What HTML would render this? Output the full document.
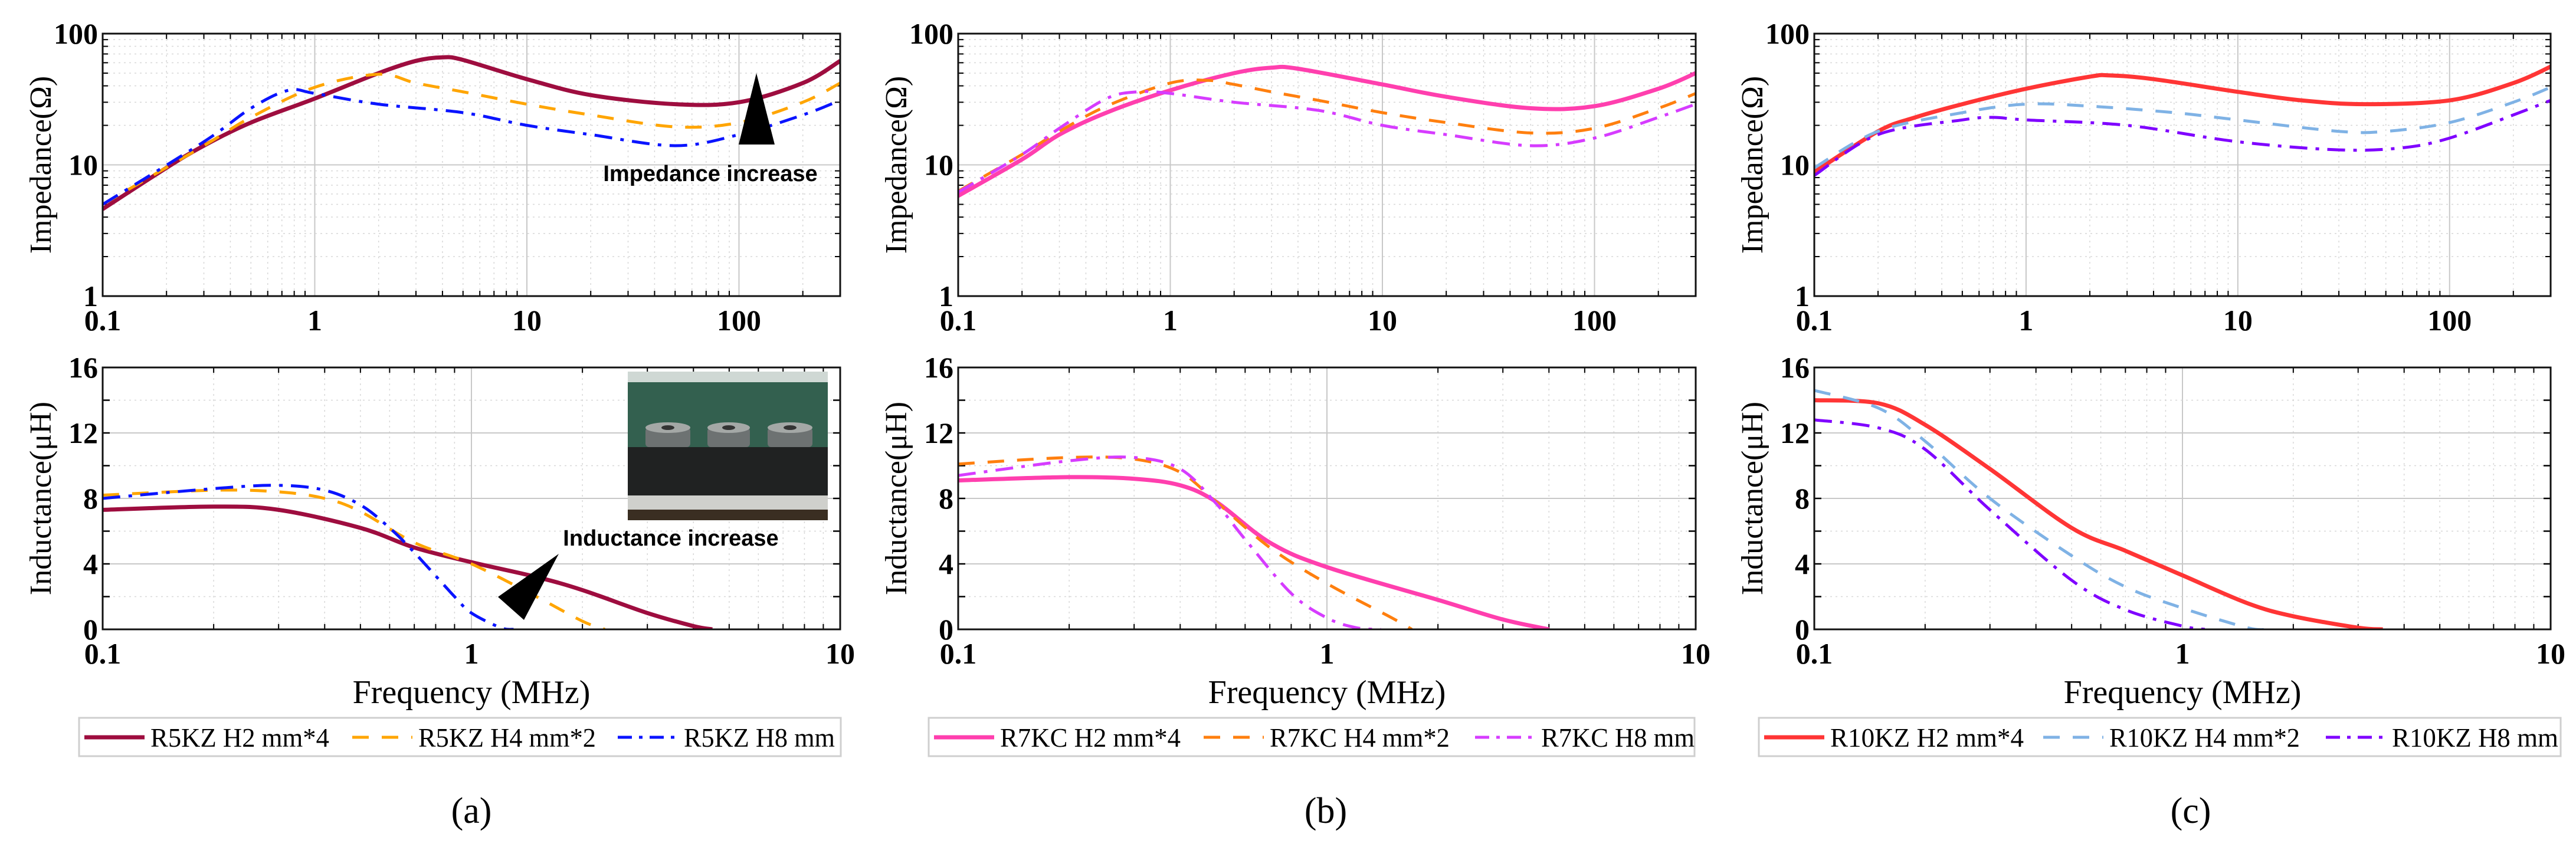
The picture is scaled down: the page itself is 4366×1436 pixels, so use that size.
<!DOCTYPE html>
<html><head><meta charset="utf-8">
<style>
html,body{margin:0;padding:0;background:#fff;}
svg{display:block;}
text{font-family:"Liberation Serif",serif;}
</style></head>
<body>
<svg id="fig" width="4366" height="1436" viewBox="0 0 4366 1436" xmlns="http://www.w3.org/2000/svg"></svg>
<script>
// ---------- data ----------
const aZf1 = [0.1,0.2,0.3,0.5,1,2,3,4,5,10,20,50,100,200,300];
const aZv1 = [4.6,9.5,14,21,32,50,62,66,63,45,34,29,30,42,62];
const aZf2 = [0.1,0.3,0.5,1,2,3,5,10,20,50,100,200,300];
const aZv2 = [5,14,23,39,49,42,36,29,24,19.5,21,30,42];
const aZf3 = [0.1,0.3,0.5,0.75,1,2,5,10,20,50,100,200,300];
const aZv3 = [5,15,27,37,35,29,25,20,17,14,17,24,31];
const aLf1 = [0.1,0.2,0.3,0.5,0.7,1,1.5,2,3,4,4.5];
const aLv1 = [7.3,7.5,7.3,6.2,5.0,4.1,3.2,2.4,1.0,0.2,0];
const aLf2 = [0.1,0.2,0.3,0.4,0.5,0.7,1,1.5,2,2.3];
const aLv2 = [8.2,8.5,8.4,8.0,7.2,5.3,4.0,2.0,0.5,0];
const aLf3 = [0.1,0.2,0.3,0.4,0.5,0.6,0.7,0.9,1,1.2,1.3];
const aLv3 = [8.0,8.6,8.8,8.5,7.6,6.2,4.7,2.0,1.0,0.1,0];
const bZf1 = [0.1,0.2,0.3,0.5,1,2,3,4,10,20,50,100,200,300];
const bZv1 = [5.8,11,17,25,37,50,55,54,41,33,27,28,38,50];
const bZf2 = [0.1,0.2,0.3,0.5,1,1.5,2,3,5,10,20,50,100,200,300];
const bZv2 = [6.3,12,18,28,42,44,41,36,31,25,21,17.5,19,27,35];
const bZf3 = [0.1,0.2,0.3,0.5,0.7,1,2,5,10,20,50,100,200,300];
const bZv3 = [6.2,12,19,32,36,35,30,26,20,17,14,16,23,29];
const bLf1 = [0.1,0.2,0.3,0.4,0.5,0.7,1,2,3,4];
const bLv1 = [9.1,9.3,9.2,8.8,7.8,5.3,3.8,1.8,0.6,0];
const bLf2 = [0.1,0.2,0.3,0.4,0.5,0.7,1,1.5,1.7];
const bLv2 = [10.1,10.5,10.4,9.6,7.8,5.0,2.8,0.7,0];
const bLf3 = [0.1,0.2,0.3,0.4,0.5,0.6,0.8,1,1.2,1.4];
const bLv3 = [9.4,10.3,10.5,9.8,7.7,5.5,2.2,0.7,0.1,0];
const cZf1 = [0.1,0.2,0.3,0.5,1,2,2.5,4,10,20,40,100,200,300];
const cZv1 = [8.8,18,23,29,38,47,48,45,36,31,29,31,42,56];
const cZf2 = [0.1,0.2,0.5,1,2,5,10,30,50,100,200,300];
const cZv2 = [9.5,18,25,29,28,25,22,18,18,21,30,39];
const cZf3 = [0.1,0.2,0.5,0.7,1,3,10,30,60,100,200,300];
const cZv3 = [8.3,17,22,23,22,20,15,13,13.5,16,24,31];
const cLf1 = [0.1,0.15,0.2,0.3,0.5,0.7,1,1.5,2,3,3.5];
const cLv1 = [14.0,13.8,12.5,9.8,6.2,4.8,3.3,1.6,0.8,0.1,0];
const cLf2 = [0.1,0.15,0.2,0.3,0.5,0.7,1,1.5,1.7];
const cLv2 = [14.6,13.5,11.5,8.0,4.5,2.6,1.3,0.1,0];
const cLf3 = [0.1,0.15,0.2,0.3,0.5,0.7,1,1.15];
const cLv3 = [12.8,12.3,11.0,7.3,3.0,1.2,0.2,0];

const zTicks = ["1","10","100"];
const zTickVals = [1,10,100];
const zxTicks = ["0.1","1","10","100"];
const zxTickVals = [0.1,1,10,100];
const lTicks = ["0","4","8","12","16"];
const lTickVals = [0,4,8,12,16];
const lxTicks = ["0.1","1","10"];
const lxTickVals = [0.1,1,10];
const legendA = ["R5KZ H2 mm*4","R5KZ H4 mm*2","R5KZ H8 mm"];
const legendB = ["R7KC H2 mm*4","R7KC H4 mm*2","R7KC H8 mm"];
const legendC = ["R10KZ H2 mm*4","R10KZ H4 mm*2","R10KZ H8 mm"];

// ---------- drawing ----------
const NS="http://www.w3.org/2000/svg";
const svg=document.getElementById('fig');
function mk(tag,attrs,parent){const e=document.createElementNS(NS,tag);for(const k in attrs)e.setAttribute(k,attrs[k]);(parent||svg).appendChild(e);return e;}
function txt(s,attrs,parent){const e=mk('text',attrs,parent);e.textContent=s;return e;}

const styles=[
 {w:7,dash:null},
 {w:5,dash:"28,22"},
 {w:5,dash:"30,14,6,14"}
];

function smoothPath(pts){
  let d="M"+pts[0][0].toFixed(1)+","+pts[0][1].toFixed(1);
  for(let i=0;i<pts.length-1;i++){
    const p0=pts[i-1]||pts[i],p1=pts[i],p2=pts[i+1],p3=pts[i+2]||p2;
    const c1=[p1[0]+(p2[0]-p0[0])/6,p1[1]+(p2[1]-p0[1])/6];
    const c2=[p2[0]-(p3[0]-p1[0])/6,p2[1]-(p3[1]-p1[1])/6];
    d+=" C"+c1.map(v=>v.toFixed(1)).join(",")+" "+c2.map(v=>v.toFixed(1)).join(",")+" "+p2[0].toFixed(1)+","+p2[1].toFixed(1);
  }
  return d;
}

function axes(o){
  const lx0=Math.log10(o.xmin),lx1=Math.log10(o.xmax);
  const X=f=>o.x0+(Math.log10(f)-lx0)/(lx1-lx0)*(o.x1-o.x0);
  let Y;
  if(o.logY){const a=Math.log10(o.ymin),b=Math.log10(o.ymax);Y=v=>o.y1-(Math.log10(v)-a)/(b-a)*(o.y1-o.y0);}
  else Y=v=>o.y1-(v-o.ymin)/(o.ymax-o.ymin)*(o.y1-o.y0);
  return {X,Y};
}

function plot(o){
  const g=mk('g',{});
  
  
  const {X,Y}=axes(o);
  const grid=mk('g',{},g);
  
  
  for(let d=Math.floor(Math.log10(o.xmin));d<Math.log10(o.xmax);d++){
    for(let m=1;m<10;m++){
      const f=m*Math.pow(10,d); if(f<o.xmin||f>o.xmax)continue;
      const x=X(f);
      if(m===1){mk('line',{x1:x,y1:o.y0,x2:x,y2:o.y1,stroke:"#c8c8c8","stroke-width":2},grid);}
      else{
        mk('line',{x1:x,y1:o.y0,x2:x,y2:o.y1,stroke:"#d8d8d8","stroke-width":1.5,"stroke-dasharray":"3,6"},grid);
        mk('line',{x1:x,y1:o.y1,x2:x,y2:o.y1-9,stroke:"#000","stroke-width":2},grid);
        mk('line',{x1:x,y1:o.y0,x2:x,y2:o.y0+9,stroke:"#000","stroke-width":2},grid);
      }
    }
  }
  if(o.logY){
    for(let d=0;d<2;d++)for(let m=1;m<10;m++){
      const v=m*Math.pow(10,d),y=Y(v);
      if(m===1){mk('line',{x1:o.x0,y1:y,x2:o.x1,y2:y,stroke:"#c8c8c8","stroke-width":2},grid);}
      else{
        mk('line',{x1:o.x0,y1:y,x2:o.x1,y2:y,stroke:"#d8d8d8","stroke-width":1.5,"stroke-dasharray":"3,6"},grid);
        mk('line',{x1:o.x0,y1:y,x2:o.x0+9,y2:y,stroke:"#000","stroke-width":2},grid);
        mk('line',{x1:o.x1,y1:y,x2:o.x1-9,y2:y,stroke:"#000","stroke-width":2},grid);
      }
    }
  } else {
    for(let v=0;v<=16;v+=2){
      const y=Y(v);
      if(v%4===0){mk('line',{x1:o.x0,y1:y,x2:o.x1,y2:y,stroke:"#c8c8c8","stroke-width":2},grid);}
      else{mk('line',{x1:o.x0,y1:y,x2:o.x1,y2:y,stroke:"#d8d8d8","stroke-width":1.5,"stroke-dasharray":"3,6"},grid);}
      mk('line',{x1:o.x0,y1:y,x2:o.x0+12,y2:y,stroke:"#000","stroke-width":2.5},grid);
      mk('line',{x1:o.x1,y1:y,x2:o.x1-12,y2:y,stroke:"#000","stroke-width":2.5},grid);
    }
  }
  if(o.inset) o.inset(g);
  const cp=mk('clipPath',{id:o.name+'-clip'},g);
  mk('rect',{x:o.x0,y:o.y0-4,width:o.x1-o.x0,height:o.y1-o.y0+4},cp);
  o.series.forEach((s,i)=>{
    const pts=s.f.map((f,k)=>[X(f),Y(s.v[k])]);
    const p=mk('path',{d:smoothPath(pts),fill:"none",stroke:s.color,"stroke-width":styles[i].w,"clip-path":"url(#"+o.name+"-clip)"},g);
    if(styles[i].dash)p.setAttribute('stroke-dasharray',styles[i].dash);
    
    
  });
  const fr=mk('rect',{x:o.x0,y:o.y0,width:o.x1-o.x0,height:o.y1-o.y0,fill:"none",stroke:"#111","stroke-width":3},g);
  
  
  o.yTickVals.forEach((v,i)=>{
    const t=txt(o.yTicks[i],{x:o.x0-8,y:Y(v)+17,"text-anchor":"end","font-size":50,"font-weight":"bold"},g);
    
    
  });
  o.xTickVals.forEach((v,i)=>{
    const t=txt(o.xTicks[i],{x:X(v),y:o.y1+58,"text-anchor":"middle","font-size":50,"font-weight":"bold"},g);
    
    
  });
  const yt=txt(o.ytitle,{x:0,y:0,"text-anchor":"middle","font-size":52,transform:"translate("+(o.x0-88)+","+((o.y0+o.y1)/2)+") rotate(-90)"},g);
  
  
  if(o.xtitle){
    const xt=txt(o.xtitle,{x:(o.x0+o.x1)/2,y:o.y1+125,"text-anchor":"middle","font-size":56},g);
    
    
  }
}

function legend(x0,x1,labels,colors,name,offs,tl){
  const g=mk('g',{});
  
  
  mk('rect',{x:x0,y:1217,width:x1-x0,height:65,fill:"#fff",stroke:"#cfcfcf","stroke-width":3},g);
  labels.forEach((l,i)=>{
    const lx=x0+offs[i];
    const ln=mk('line',{x1:lx+4,y1:1250,x2:lx+106,y2:1250,stroke:colors[i],"stroke-width":styles[i].w},g);
    if(styles[i].dash)ln.setAttribute('stroke-dasharray',i===1?"28,22":"24,12,6,12");
    const t=txt(l,{x:lx+116,y:1266,"font-size":46,textLength:tl[i],lengthAdjust:"spacingAndGlyphs"},g);
    
    
  });
}

const panels=[
 {id:'a',x0:174,x1:1424,lab:'(a)',cx:799,colors:["#9e0d3f","#ffa500","#0a14ff"],Z:[[aZf1,aZv1],[aZf2,aZv2],[aZf3,aZv3]],L:[[aLf1,aLv1],[aLf2,aLv2],[aLf3,aLv3]],leg:legendA,lx0:134,lx1:1425,offs:[5,459,909],tl:[303,301,256]},
 {id:'b',x0:1624,x1:2874,lab:'(b)',cx:2247,colors:["#ff3fae","#ff7f0e","#d63cff"],Z:[[bZf1,bZv1],[bZf2,bZv2],[bZf3,bZv3]],L:[[bLf1,bLv1],[bLf2,bLv2],[bLf3,bLv3]],leg:legendB,lx0:1574,lx1:2872,offs:[5,462,922],tl:[306,305,260]},
 {id:'c',x0:3075,x1:4323,lab:'(c)',cx:3713,colors:["#ff3535","#7fb2e5","#7f00ff"],Z:[[cZf1,cZv1],[cZf2,cZv2],[cZf3,cZv3]],L:[[cLf1,cLv1],[cLf2,cLv2],[cLf3,cLv3]],leg:legendC,lx0:2981,lx1:4340,offs:[5,478,957],tl:[328,323,282]}
];

function photoInset(g){
  const x=1064,y=630,w=339,h=252;
  const ig=mk('g',{},g);
  
  
  mk('rect',{x:x,y:y,width:w,height:h,fill:"#2f5a4c"},ig);
  mk('rect',{x:x,y:y,width:w,height:18,fill:"#cfd8d4"},ig);
  mk('rect',{x:x,y:y+18,width:w,height:110,fill:"#33604f"},ig);
  mk('rect',{x:x,y:y+128,width:w,height:82,fill:"#202222"},ig);
  mk('rect',{x:x,y:y+210,width:w,height:24,fill:"#cfd0cc"},ig);
  mk('rect',{x:x,y:y+234,width:w,height:18,fill:"#3a2e22"},ig);
  [[x+30,76],[x+135,72],[x+237,76]].forEach(([wx,ww])=>{
    mk('rect',{x:wx,y:y+95,width:ww,height:33,fill:"#6d7272",rx:6},ig);
    mk('ellipse',{cx:wx+ww/2,cy:y+95,rx:ww/2,ry:9,fill:"#a4a8a6"},ig);
    mk('ellipse',{cx:wx+ww/2,cy:y+95,rx:11,ry:4,fill:"#333"},ig);
  });
}

panels.forEach(P=>{
  plot({name:'impedance-plot-'+P.id,x0:P.x0,x1:P.x1,y0:57,y1:502,xmin:0.1,xmax:300,logY:true,ymin:1,ymax:100,
    series:P.Z.map((s,i)=>({f:s[0],v:s[1],color:P.colors[i]})),
    yTicks:zTicks,yTickVals:zTickVals,xTicks:zxTicks,xTickVals:zxTickVals,ytitle:"Impedance(Ω)"});
  plot({name:'inductance-plot-'+P.id,x0:P.x0,x1:P.x1,y0:623,y1:1067,xmin:0.1,xmax:10,logY:false,ymin:0,ymax:16,
    series:P.L.map((s,i)=>({f:s[0],v:s[1],color:P.colors[i]})),
    yTicks:lTicks,yTickVals:lTickVals,xTicks:lxTicks,xTickVals:lxTickVals,ytitle:"Inductance(μH)",xtitle:"Frequency (MHz)",
    inset:P.id==='a'?photoInset:null});
  legend(P.lx0,P.lx1,P.leg,P.colors,'legend-'+P.id,P.offs,P.tl);
  const c=txt(P.lab,{x:P.cx,y:1395,"text-anchor":"middle","font-size":62},svg);
  
  
});

const t1=mk('polygon',{points:"1282,124 1252,245 1313,245",fill:"#000"});


const a1=txt("Impedance increase",{x:1204,y:307,"text-anchor":"middle","font-size":38,"font-weight":"bold",style:'font-family:"Liberation Sans",sans-serif'});


const t2=mk('polygon',{points:"947,939 844,1012 888,1051",fill:"#000"});


const a2=txt("Inductance increase",{x:1137,y:925,"text-anchor":"middle","font-size":38,"font-weight":"bold",style:'font-family:"Liberation Sans",sans-serif'});


</script>
</body></html>
